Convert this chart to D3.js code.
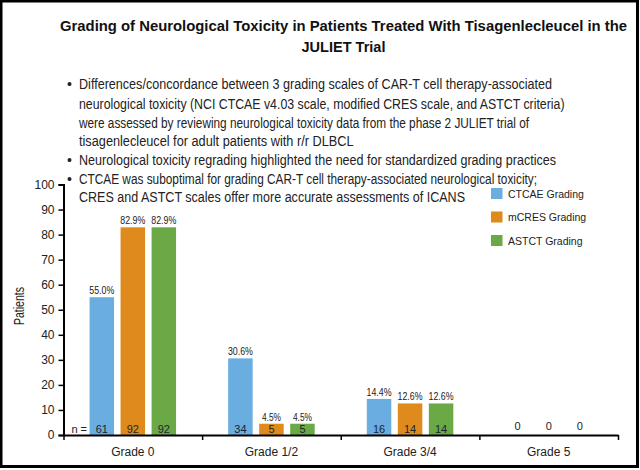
<!DOCTYPE html>
<html><head><meta charset="utf-8">
<script src="https://cdn.jsdelivr.net/npm/d3@7"></script>
<style>
html,body{margin:0;padding:0;background:#fff;}
svg{display:block;font-family:"Liberation Sans",Arial,sans-serif;}
</style></head>
<body>
<svg id="chart" width="640" height="470"></svg>
<script>
const titleLines = ["Grading of Neurological Toxicity in Patients Treated With Tisagenlecleucel in the", "JULIET Trial"];
const bulletLines = [
  {text:"Differences/concordance between 3 grading scales of CAR-T cell therapy-associated", bullet:true},
  {text:"neurological toxicity (NCI CTCAE v4.03 scale, modified CRES scale, and ASTCT criteria)", bullet:false},
  {text:"were assessed by reviewing neurological toxicity data from the phase 2 JULIET trial of", bullet:false},
  {text:"tisagenlecleucel for adult patients with r/r DLBCL", bullet:false},
  {text:"Neurological toxicity regrading highlighted the need for standardized grading practices", bullet:true},
  {text:"CTCAE was suboptimal for grading CAR-T cell therapy-associated neurological toxicity;", bullet:true},
  {text:"CRES and ASTCT scales offer more accurate assessments of ICANS", bullet:false}
];
const categories = ["Grade 0", "Grade 1/2", "Grade 3/4", "Grade 5"];
const seriesNames = ["CTCAE Grading", "mCRES Grading", "ASTCT Grading"];
const ctcaePct = [55.0, 30.6, 14.4, 0];
const mcresPct = [82.9, 4.5, 12.6, 0];
const astctPct = [82.9, 4.5, 12.6, 0];
const ctcaeN = [61, 34, 16, 0];
const mcresN = [92, 5, 14, 0];
const astctN = [92, 5, 14, 0];
const yTicks = [0,10,20,30,40,50,60,70,80,90,100];
const colors = ["#6aade1", "#df8a1c", "#6aa946"];

const svg = d3.select("#chart");
// frame
svg.append("rect").attr("x",1).attr("y",1).attr("width",636.5).attr("height",465.5)
  .attr("fill","none").attr("stroke","#000").attr("stroke-width",3);

// title
const tLens = [567, 84];
titleLines.forEach((t,i)=>{
  svg.append("text").attr("x",343.5).attr("y",31+i*21).attr("text-anchor","middle")
    .attr("font-size",15).attr("font-weight","bold").attr("fill","#111")
    .attr("textLength",tLens[i]).attr("lengthAdjust","spacingAndGlyphs").text(t);
});

// bullets
const bEnds = [552, 564.5, 529, 353.5, 556, 537, 465];
const bBase = [89, 108.5, 127.5, 146, 164.5, 183.5, 202];
bulletLines.forEach((b,i)=>{
  if (b.bullet) svg.append("text").attr("x",67).attr("y",bBase[i]).attr("font-size",14).attr("fill","#222").text("\u2022");
  svg.append("text").attr("x",79).attr("y",bBase[i]).attr("font-size",14).attr("fill","#222")
    .attr("textLength",bEnds[i]-79).attr("lengthAdjust","spacingAndGlyphs").text(b.text);
});

// scales
const x0 = d3.scaleBand().domain(categories).range([63.5,618]).paddingInner(0).paddingOuter(0);
const x1 = d3.scaleBand().domain(seriesNames).range([0,x0.bandwidth()]).paddingInner(0.21).paddingOuter(0.84);
const y = d3.scaleLinear().domain([0,100]).range([435,184.5]);

const data = [];
const pcts = [ctcaePct, mcresPct, astctPct];
const ns = [ctcaeN, mcresN, astctN];
categories.forEach((c,ci)=>{
  seriesNames.forEach((s,si)=>{
    data.push({cat:c, ser:s, pct:pcts[si][ci], n:ns[si][ci], color:colors[si]});
  });
});

// bars
svg.append("g").selectAll("rect").data(data.filter(d=>d.pct>0)).join("rect")
  .attr("x",d=>x0(d.cat)+x1(d.ser)).attr("width",x1.bandwidth())
  .attr("y",d=>y(d.pct)).attr("height",d=>y(0)-y(d.pct)).attr("fill",d=>d.color);

// pct labels
svg.append("g").selectAll("text").data(data.filter(d=>d.pct>0)).join("text")
  .attr("x",d=>x0(d.cat)+x1(d.ser)+x1.bandwidth()/2).attr("y",d=>y(d.pct)-3)
  .attr("text-anchor","middle").attr("font-size",10.5).attr("fill","#222")
  .attr("textLength",d=>d.pct>=10?25:19).attr("lengthAdjust","spacingAndGlyphs")
  .text(d=>d.pct.toFixed(1)+"%");

// n labels
svg.append("g").selectAll("text").data(data).join("text")
  .attr("x",d=>x0(d.cat)+x1(d.ser)+x1.bandwidth()/2).attr("y",d=>d.pct>0?433:430)
  .attr("text-anchor","middle").attr("font-size",11).attr("fill",d=>d.pct>0?"#1b2430":"#222")
  .text(d=>d.n);
svg.append("text").attr("x",87).attr("y",433).attr("text-anchor","end").attr("font-size",11).attr("fill","#222").text("n =");

// y axis
const yAxis = svg.append("g").attr("transform","translate(63.5,0)")
  .call(d3.axisLeft(y).tickValues(yTicks).tickSize(5).tickPadding(4));
yAxis.select(".domain").attr("stroke-width",2);
yAxis.selectAll(".tick line").attr("stroke-width",1.5);
yAxis.selectAll(".tick text").attr("font-size",12).attr("fill","#222").attr("font-family","Liberation Sans, Arial, sans-serif");

// x axis
const xb = d3.scaleLinear().domain([0,4]).range([63.5,618]);
const xAxis = svg.append("g").attr("transform","translate(0,435)")
  .call(d3.axisBottom(xb).tickValues([0,1,2,3,4]).tickSize(5).tickSizeOuter(0).tickFormat(""));
xAxis.select(".domain").attr("stroke-width",2.2);
xAxis.selectAll(".tick line").attr("stroke-width",1.5);
svg.append("g").selectAll("text").data(categories).join("text")
  .attr("x",d=>x0(d)+x0.bandwidth()/2).attr("y",456).attr("text-anchor","middle")
  .attr("font-size",12).attr("fill","#222").text(d=>d);

// y title
svg.append("text").attr("transform","translate(24,306) rotate(-90)").attr("text-anchor","middle")
  .attr("font-size",14).attr("fill","#222").attr("textLength",38).attr("lengthAdjust","spacingAndGlyphs").text("Patients");

// legend
const lg = svg.append("g").attr("transform","translate(491,188)");
seriesNames.forEach((s,i)=>{
  lg.append("rect").attr("x",0).attr("y",i*23.5).attr("width",11.5).attr("height",11).attr("fill",colors[i]);
  lg.append("text").attr("x",17).attr("y",i*23.5+9.5).attr("font-size",10.5).attr("fill","#222").text(s);
});
</script>
</body></html>
